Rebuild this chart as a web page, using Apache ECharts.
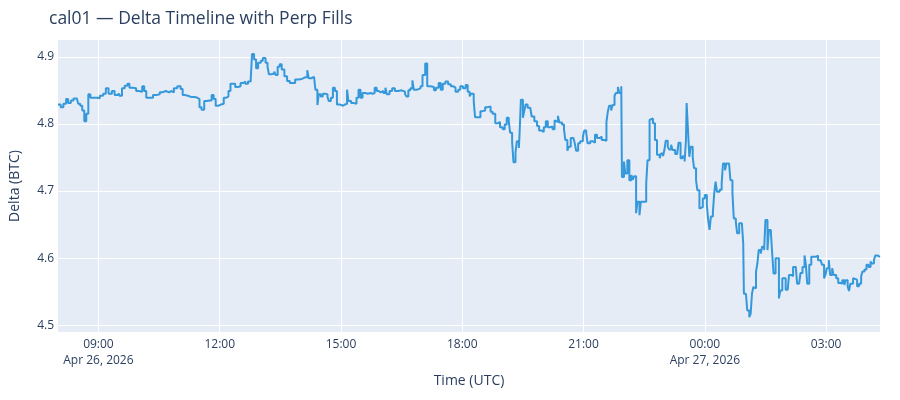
<!DOCTYPE html>
<html>
<head>
<meta charset="utf-8">
<script src="https://cdn.jsdelivr.net/npm/echarts@6/dist/echarts.min.js"></script>
<style>
  html, body { margin: 0; padding: 0; background: #fff; }
  #chart { width: 900px; height: 400px; }
</style>
</head>
<body>
<div id="chart"></div>
<script>
// Delta readings, Apr 26 (UTC)
var timesApr26 = [
  '08:00','08:04','08:08','08:12','08:15','08:19','08:23','08:28','08:30','08:33','08:36','08:39','08:42','08:45','08:48','08:53','08:58',
  '09:02','09:07','09:11','09:15','09:20','09:24','09:28','09:31','09:35','09:39','09:43','09:46','09:51','09:56',
  '10:00','10:05','10:08','10:11','10:16','10:21','10:26','10:31','10:35','10:40','10:45','10:48','10:52','10:57',
  '11:02','11:05','11:08','11:13','11:18','11:23','11:27','11:30','11:33','11:37','11:41','11:45','11:48','11:51','11:54','11:58',
  '12:02','12:06','12:10','12:13','12:16','12:20','12:23','12:27','12:31','12:35','12:38','12:42','12:46','12:48','12:51','12:54','12:57',
  '13:01','13:04','13:08','13:11','13:13','13:17','13:21','13:23','13:26','13:29','13:32','13:36','13:40','13:44','13:49','13:52','13:57',
  '14:02','14:06','14:10','14:12','14:16','14:20','14:22','14:25','14:27','14:30','14:33','14:37','14:40','14:42','14:45','14:48','14:51','14:54','14:58',
  '15:03','15:06','15:09','15:11','15:15','15:19','15:23','15:26','15:29','15:32','15:36','15:40','15:44','15:47','15:50','15:53','15:56','15:59',
  '16:03','16:06','16:08','16:12','16:16','16:20','16:25','16:30','16:35','16:37','16:40','16:43','16:46','16:48','16:53','16:58',
  '17:01','17:05','17:08','17:13','17:18','17:21','17:25','17:28','17:31','17:35','17:39','17:43','17:47','17:50','17:54','17:57',
  '18:01','18:05','18:08','18:11','18:13','18:17','18:19','18:23','18:27','18:30','18:34','18:38','18:42','18:45','18:49','18:53','18:56',
  '19:00','19:03','19:06','19:09','19:11','19:14','19:16','19:19','19:21','19:24','19:25','19:27','19:30','19:32','19:34','19:37','19:41','19:43','19:47','19:51','19:54','19:58',
  '20:01','20:04','20:07','20:10','20:12','20:14','20:17','20:19','20:22','20:24','20:28','20:31','20:33','20:36','20:38','20:41','20:45','20:47','20:49','20:52','20:55','20:59',
  '21:01','21:04','21:06','21:10','21:14','21:17','21:20','21:24','21:27','21:31','21:34','21:36','21:38','21:41','21:43','21:46','21:48','21:51','21:53','21:56','21:57',
  '22:00','22:02','22:05','22:08','22:11','22:13','22:15','22:18','22:20','22:23','22:25','22:29','22:33','22:35','22:38','22:40','22:43','22:46','22:49','22:53','22:55','22:58',
  '23:00','23:02','23:05','23:07','23:10','23:12','23:16','23:19','23:21','23:24','23:27','23:30','23:32','23:33','23:35','23:37','23:39','23:42','23:44','23:47','23:49','23:52','23:54','23:57'
];
var deltaApr26 = [
  4.829,4.825,4.830,4.837,4.831,4.835,4.838,4.839,4.830,4.827,4.820,4.804,4.815,4.844,4.839,4.839,4.838,
  4.842,4.845,4.853,4.845,4.849,4.843,4.845,4.842,4.853,4.857,4.860,4.854,4.853,4.849,
  4.848,4.856,4.849,4.839,4.839,4.843,4.844,4.847,4.849,4.847,4.849,4.847,4.853,4.856,
  4.852,4.843,4.842,4.840,4.840,4.839,4.837,4.825,4.821,4.834,4.835,4.835,4.843,4.837,4.827,4.829,
  4.830,4.839,4.841,4.849,4.860,4.860,4.855,4.856,4.861,4.863,4.860,4.863,4.866,4.904,4.896,4.883,4.891,
  4.894,4.898,4.891,4.885,4.874,4.875,4.878,4.873,4.885,4.889,4.881,4.871,4.864,4.861,4.861,4.866,4.867,
  4.869,4.870,4.880,4.868,4.870,4.870,4.851,4.828,4.844,4.841,4.845,4.844,4.840,4.834,4.839,4.854,4.849,4.829,4.827,
  4.829,4.830,4.851,4.834,4.831,4.830,4.839,4.851,4.839,4.846,4.845,4.846,4.845,4.846,4.854,4.849,4.847,4.849,
  4.846,4.854,4.844,4.849,4.853,4.849,4.850,4.848,4.845,4.841,4.850,4.853,4.865,4.851,4.853,4.856,
  4.873,4.890,4.856,4.855,4.850,4.854,4.861,4.851,4.860,4.863,4.859,4.856,4.854,4.848,4.851,4.856,
  4.853,4.858,4.848,4.841,4.845,4.834,4.810,4.810,4.819,4.820,4.825,4.826,4.818,4.815,4.801,4.803,4.795,
  4.792,4.799,4.809,4.804,4.787,4.773,4.743,4.757,4.774,4.764,4.784,4.836,4.809,4.819,4.829,4.824,4.826,4.811,4.804,4.797,4.790,4.788,
  4.795,4.804,4.795,4.797,4.796,4.792,4.805,4.803,4.812,4.802,4.799,4.792,4.776,4.760,4.766,4.779,4.779,4.771,4.760,4.771,4.774,4.781,
  4.790,4.786,4.771,4.774,4.772,4.784,4.779,4.781,4.776,4.775,4.803,4.818,4.827,4.820,4.828,4.842,4.846,4.855,4.846,4.856,4.721,
  4.744,4.726,4.746,4.716,4.724,4.717,4.722,4.667,4.684,4.664,4.684,4.684,4.711,4.746,4.806,4.808,4.801,4.776,4.754,4.749,4.756,4.752,
  4.761,4.775,4.766,4.762,4.769,4.761,4.755,4.757,4.772,4.749,4.752,4.744,4.776,4.831,4.791,4.751,4.766,4.751,4.734,4.716,4.701,4.674,4.676,4.689
];

// Delta readings, Apr 27 (UTC)
var timesApr27 = [
  '00:00','00:03','00:05','00:07','00:09','00:12','00:14','00:16','00:18','00:22','00:25','00:27','00:30','00:32','00:36','00:38','00:41','00:43','00:46','00:48','00:51','00:55','00:57','00:58',
  '01:01','01:03','01:06','01:08','01:10','01:12','01:14','01:16','01:18','01:20','01:23','01:25','01:28','01:30','01:33','01:35','01:38','01:40','01:42','01:45','01:47','01:50','01:52','01:55','01:57',
  '02:00','02:03','02:05','02:08','02:11','02:15','02:17','02:20','02:22','02:25','02:28','02:30','02:32','02:35','02:38','02:42','02:45','02:48','02:52','02:54','02:57','02:59',
  '03:01','03:04','03:06','03:09','03:11','03:15','03:18','03:21','03:24','03:27','03:29','03:32','03:34','03:36','03:40','03:42','03:46','03:49','03:52','03:54','03:57',
  '04:00','04:03','04:06','04:08','04:11','04:13','04:16','04:20'
];
var deltaApr27 = [
  4.694,4.679,4.657,4.642,4.662,4.669,4.697,4.714,4.699,4.702,4.711,4.741,4.731,4.741,4.739,4.716,4.697,4.659,4.654,4.637,4.652,4.651,4.622,4.547,
  4.545,4.522,4.512,4.517,4.547,4.557,4.555,4.580,4.592,4.612,4.607,4.617,4.612,4.657,4.612,4.642,4.639,4.607,4.577,4.600,4.600,4.540,4.552,4.570,4.570,
  4.553,4.553,4.575,4.573,4.587,4.588,4.562,4.561,4.578,4.587,4.604,4.590,4.562,4.590,4.602,4.602,4.604,4.597,4.597,4.590,4.570,4.575,
  4.585,4.597,4.575,4.585,4.575,4.570,4.563,4.562,4.567,4.560,4.567,4.558,4.551,4.562,4.570,4.568,4.558,4.562,4.573,4.580,4.583,
  4.590,4.587,4.595,4.592,4.597,4.604,4.602,4.602
];

// axis ticks
var xTicks = ['2026-04-26T09:00:00Z','2026-04-26T12:00:00Z','2026-04-26T15:00:00Z','2026-04-26T18:00:00Z',
              '2026-04-26T21:00:00Z','2026-04-27T00:00:00Z','2026-04-27T03:00:00Z'];
var yTicks = [4.5, 4.6, 4.7, 4.8, 4.9];

var points = timesApr26.map(function (t, i) { return [Date.parse('2026-04-26T' + t + ':00Z'), deltaApr26[i]]; })
  .concat(timesApr27.map(function (t, i) { return [Date.parse('2026-04-27T' + t + ':00Z'), deltaApr27[i]]; }));
var xTickValues = xTicks.map(function (s) { return Date.parse(s); });

var months = ['Jan','Feb','Mar','Apr','May','Jun','Jul','Aug','Sep','Oct','Nov','Dec'];
function pad(n) { return (n < 10 ? '0' : '') + n; }

var textColor = '#2a3f5f';
var font = '"Open Sans", Verdana, Arial, sans-serif';

var myChart = echarts.init(document.getElementById('chart'));
myChart.setOption({
  animation: false,
  textStyle: { fontFamily: font, color: textColor },
  title: {
    text: 'cal01 — Delta Timeline with Perp Fills',
    left: 44,
    top: 5,
    textStyle: { fontFamily: font, fontSize: 17.5, fontWeight: 'normal', color: textColor }
  },
  grid: {
    left: 57,
    right: 20,
    top: 40,
    bottom: 68,
    show: true,
    backgroundColor: '#E5ECF6',
    borderWidth: 0
  },
  xAxis: {
    type: 'value',
    min: 'dataMin',
    max: 'dataMax',
    name: 'Time (UTC)',
    nameLocation: 'middle',
    nameGap: 41,
    nameTextStyle: { fontFamily: font, fontSize: 14, color: textColor },
    axisLine: { show: false },
    axisTick: { show: false, customValues: xTickValues },
    splitLine: { show: true, lineStyle: { color: '#fff', width: 1 } },
    axisLabel: {
      customValues: xTickValues,
      margin: 5,
      fontFamily: font,
      fontSize: 12,
      color: textColor,
      lineHeight: 16,
      formatter: function (value) {
        var d = new Date(value);
        var s = pad(d.getUTCHours()) + ':' + pad(d.getUTCMinutes());
        if (value === xTickValues[0] || d.getUTCHours() === 0) {
          s += '\n' + months[d.getUTCMonth()] + ' ' + d.getUTCDate() + ', ' + d.getUTCFullYear();
        }
        return s;
      }
    }
  },
  yAxis: {
    type: 'value',
    min: 4.49,
    max: 4.925,
    name: 'Delta (BTC)',
    nameLocation: 'middle',
    nameGap: 36,
    nameTextStyle: { fontFamily: font, fontSize: 14, color: textColor },
    axisLine: { show: false },
    axisTick: { show: false, customValues: yTicks },
    splitLine: { show: true, lineStyle: { color: '#fff', width: 1 } },
    axisLabel: {
      customValues: yTicks,
      margin: 4,
      fontFamily: font,
      fontSize: 12,
      color: textColor,
      formatter: function (v) { return v.toFixed(1); }
    }
  },
  series: [
    {
      name: 'Delta',
      type: 'line',
      data: points,
      step: 'end',
      showSymbol: false,
      lineStyle: { color: '#3498db', width: 2 },
      itemStyle: { color: '#3498db' }
    }
  ]
});
</script>
</body>
</html>
